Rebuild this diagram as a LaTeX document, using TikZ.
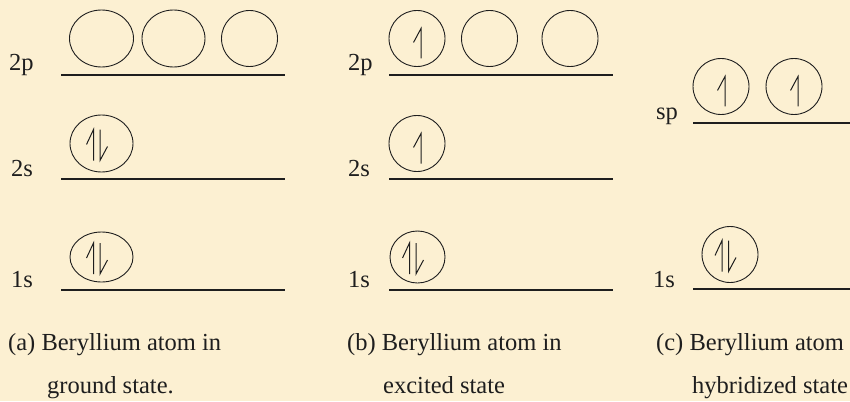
\documentclass[tikz,border=0pt]{standalone}
\usepackage{fontspec}
\newfontfamily\timesfont{Liberation Serif}
\usepackage{tikz}
\usetikzlibrary{shapes.geometric, positioning}
\definecolor{paper}{HTML}{FCF0D2}
\definecolor{ink}{HTML}{1E1E1E}

\begin{document}
\begin{tikzpicture}[x=1pt, y=-1pt, color=ink,
    orb/.style={draw, ellipse, line width=0.9pt, inner sep=0pt, minimum width=56pt, minimum height=56pt},
    lbl/.style={anchor=base west, inner sep=0pt, font=\timesfont\fontsize{24.5}{29}\selectfont},
    level/.style={line width=1.2pt},
    spinup/.pic={\draw[line width=1pt] (-3.5,4) -- (4,-10) -- (4,20);},
    spinpair/.pic={\draw[line width=1pt] (-15,1) -- (-8,-14) -- (-8,17);
                   \draw[line width=1pt] (-1.5,-14) -- (-1.5,17) -- (6,3);}]

\fill[paper] (0,0) rectangle (850,401);
\useasboundingbox (0,0) rectangle (850,401);

% (a) ground state
\node[lbl] (a2plbl) at (9,71) {2p};
\node[lbl] (a2slbl) at (11,176) {2s};
\node[lbl] (a1slbl) at (11,287) {1s};
\draw[level] (61,75) -- (285,75);
\draw[level] (61,179) -- (285,179);
\draw[level] (61,290) -- (285,290);
\node[orb, minimum width=64pt, minimum height=57pt] (a2p1) at (101.5,38.5) {};
\node[orb, minimum width=63pt, minimum height=57pt] (a2p2) at (173.5,38.5) {};
\node[orb] (a2p3) at (249.5,38.5) {};
\node[orb, minimum width=63pt, minimum height=57pt] (a2s) at (101.5,143.5) {};
\node[orb, minimum width=63pt, minimum height=50pt] (a1s) at (101.5,257) {};
\pic at (a2s) {spinpair};
\pic at (a1s) {spinpair};
\node[lbl] (capa) at (8,350) {(a) Beryllium atom in};
\node[lbl] (capa2) at (47,393) {ground state.};

% (b) excited state
\node[lbl] (b2plbl) at (348,71) {2p};
\node[lbl] (b2slbl) at (348,176) {2s};
\node[lbl] (b1slbl) at (348,287) {1s};
\draw[level] (389,75) -- (613,75);
\draw[level] (389,179) -- (613,179);
\draw[level] (389,290) -- (613,290);
\node[orb] (b2p1) at (417,38.5) {};
\node[orb] (b2p2) at (489.5,38.5) {};
\node[orb] (b2p3) at (570,38.5) {};
\node[orb] (b2s) at (417,143.5) {};
\node[orb, minimum width=55pt, minimum height=52pt] (b1s) at (417.5,257) {};
\pic at (b2p1) {spinup};
\pic at (b2s) {spinup};
\pic at (b1s) {spinpair};
\node[lbl] (capb) at (347,350) {(b) Beryllium atom in};
\node[lbl] (capb2) at (383,393) {excited state};

% (c) hybridized state
\node[lbl] (csplbl) at (656,119) {sp};
\node[lbl] (c1slbl) at (653,287) {1s};
\draw[level] (693,123) -- (850,123);
\draw[level] (693,289) -- (850,289);
\node[orb] (csp1) at (721,86.5) {};
\node[orb] (csp2) at (794,86.5) {};
\node[orb] (c1s) at (730,254.5) {};
\pic at (csp1) {spinup};
\pic at (csp2) {spinup};
\pic at (c1s) {spinpair};
\node[lbl] (capc) at (656,350) {(c) Beryllium atom};
\node[lbl] (capc2) at (692,393) {hybridized state};
\end{tikzpicture}
\end{document}
